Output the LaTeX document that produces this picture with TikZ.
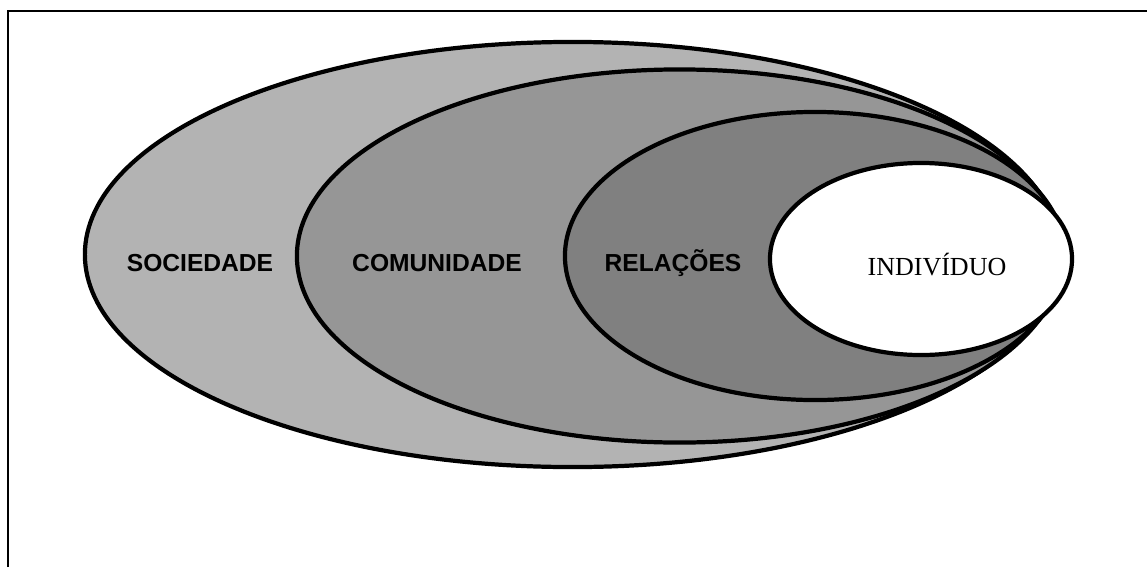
\documentclass[tikz,border=0pt]{standalone}
\usepackage{fontspec}
\setmainfont{Liberation Serif}
\newfontfamily\arialfont{Liberation Sans}
\usepackage{tikz}
\usetikzlibrary{positioning,shapes.geometric}
\usepackage{xcolor}
\definecolor{socgray}{RGB}{179,179,179}
\definecolor{comgray}{RGB}{150,150,150}
\definecolor{relgray}{RGB}{128,128,128}

\begin{document}
\begin{tikzpicture}[
    x=0.025cm, y=-0.025cm,
    ring/.style={ellipse, draw=black, fill=#1, inner sep=0pt,
                 line width=3pt},
    lbl/.style={font=\arialfont\bfseries\fontsize{17.5}{20}\selectfont},
    seriflbl/.style={font=\fontsize{18.5}{21}\selectfont},
    frame/.style={line width=2pt, draw=black}
]
\useasboundingbox (0,0) rectangle (1147,567);

% Frame (only left and top edges show)
\draw[frame] (8,567) -- (8,11) -- (1147,11);

% Nested ellipses, outside in
\node[ring=socgray, minimum width=24.375cm, minimum height=10.625cm] (soc) at (572.5,254.5) {};
\node[ring=comgray, minimum width=19.125cm, minimum height=9.325cm] (com) at (679.5,256) {};
\node[ring=relgray, minimum width=12.5cm, minimum height=7.2cm] (rel) at (815,256) {};
\node[ring=white, minimum width=7.55cm, minimum height=4.8cm] (ind) at (921,259) {};

% Labels
\node[lbl] (tsoc) at (200,263) {SOCIEDADE};
\node[lbl] (tcom) at (437,263) {COMUNIDADE};
\node[lbl] (trel) at (673,263) {RELAÇÕES};
\node[seriflbl] (tind) at (937,265) {INDIVÍDUO};

\end{tikzpicture}
\end{document}
